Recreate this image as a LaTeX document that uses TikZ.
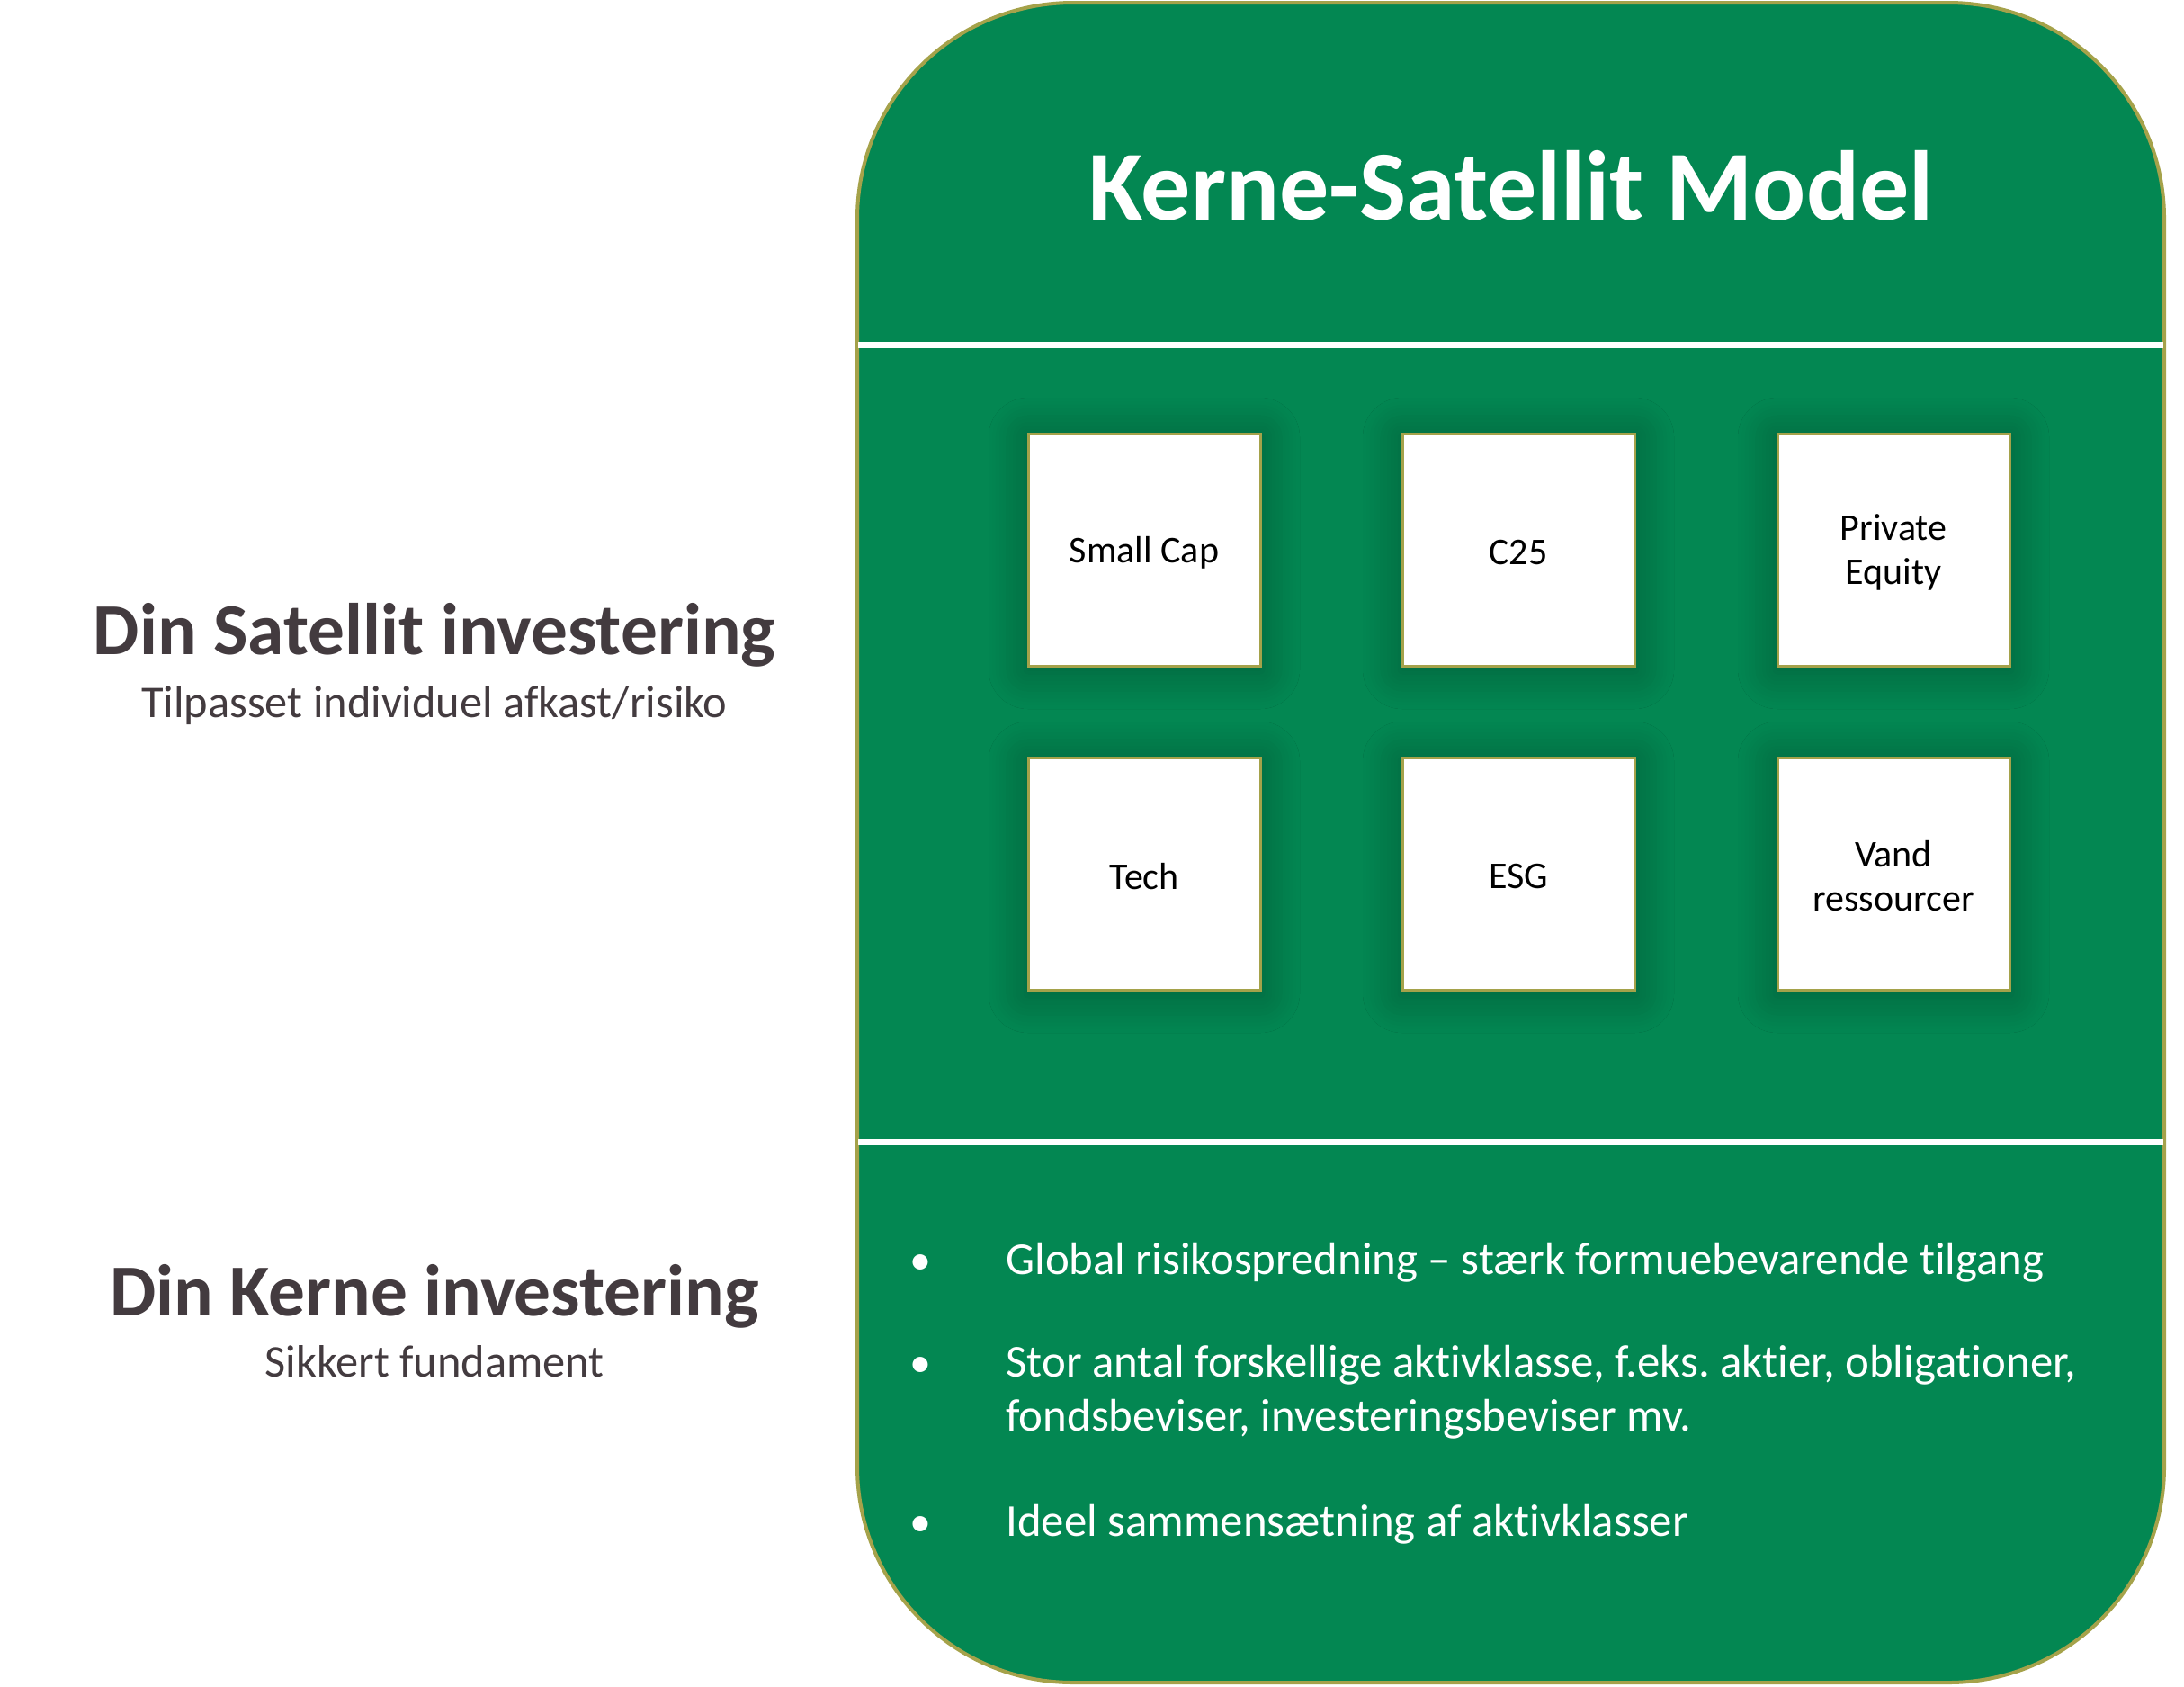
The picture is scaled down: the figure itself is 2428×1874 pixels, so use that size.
\documentclass[tikz,border=0pt]{standalone}
\usepackage{fontspec}
\setmainfont{Carlito}[Ligatures=NoCommon]
\usetikzlibrary{shadows.blur}
\definecolor{panelgreen}{HTML}{038752}
\definecolor{olive}{HTML}{A5A24A}
\definecolor{darktxt}{HTML}{433B3F}
\frenchspacing
\tikzset{
  px/.style={x=0.5pt,y=-0.5pt},
  tile/.style={draw=olive, line width=1.5pt, fill=white, minimum width=129pt, minimum height=129pt,
    inner sep=0pt,
    blur shadow={shadow xshift=0pt, shadow yshift=-2pt, shadow blur radius=22pt, shadow blur steps=12, shadow opacity=32}},
  tiletext/.style={align=center, text=black, inner sep=0pt, yshift=-1.5pt, font=\fontsize{21}{24.5}\selectfont},
  lefthead/.style={anchor=base, inner sep=0pt, text=darktxt, font=\fontsize{40.7}{48}\selectfont\bfseries},
  leftsub/.style={anchor=base, inner sep=0pt, text=darktxt, font=\fontsize{25.2}{30}\selectfont},
  bul/.style={anchor=base, inner sep=0pt, text=white, font=\fontsize{24}{30}\selectfont},
  bultext/.style={anchor=base west, inner sep=0pt, text=white, font=\fontsize{25.4}{30}\selectfont},
  divider/.style={white, line width=3.5pt}
}
\begin{document}
\begin{tikzpicture}[px]
\useasboundingbox (0,0) rectangle (2428,1874);
% panel
\draw[olive, line width=2pt, fill=panelgreen, rounded corners=120pt] (953,3) rectangle (2406,1870);
\coordinate (d1l) at (954,383);
\coordinate (d1r) at (2405,383);
\coordinate (d2l) at (954,1269);
\coordinate (d2r) at (2405,1269);
\draw[divider] (d1l) -- (d1r);
\draw[divider] (d2l) -- (d2r);
% title
\node[anchor=base, inner sep=0pt, text=white, font=\fontsize{55}{66}\selectfont\bfseries] (title) at (1680,244) {Kerne-Satellit Model};
% tiles
\node[tile, label={[tiletext]center:Small Cap}] (t1) at (1272,611) {};
\node[tile, label={[tiletext]center:C25}] (t2) at (1688,611) {};
\node[tile, label={[tiletext]center:Private\\Equity}] (t3) at (2105,611) {};
\node[tile, label={[tiletext]center:Tech}] (t4) at (1272,971) {};
\node[tile, label={[tiletext]center:ESG}] (t5) at (1688,971) {};
\node[tile, label={[tiletext]center:Vand\\ressourcer}] (t6) at (2105,971) {};
% left texts
\node[lefthead] (sath) at (483,727) {Din Satellit investering};
\node[leftsub] (sats) at (483,797) {Tilpasset individuel afkast/risiko};
\node[lefthead] (kerh) at (483,1462) {Din Kerne investering};
\node[leftsub] (kers) at (483,1530) {Sikkert fundament};
% bullets
\node[bul] (b1) at (1023,1416) {•};
\node[bultext] (l1) at (1118,1416) {Global risikospredning – stærk formuebevarende tilgang};
\node[bul] (b2) at (1023,1530) {•};
\node[bultext] (l2) at (1118,1530) {\begin{tabular}[t]{@{}l@{}}Stor antal forskellige aktivklasse, f.eks. aktier, obligationer,\\ fondsbeviser, investeringsbeviser mv.\end{tabular}};
\node[bul] (b3) at (1023,1707) {•};
\node[bultext] (l3) at (1118,1707) {Ideel sammensætning af aktivklasser};
\end{tikzpicture}
\end{document}
